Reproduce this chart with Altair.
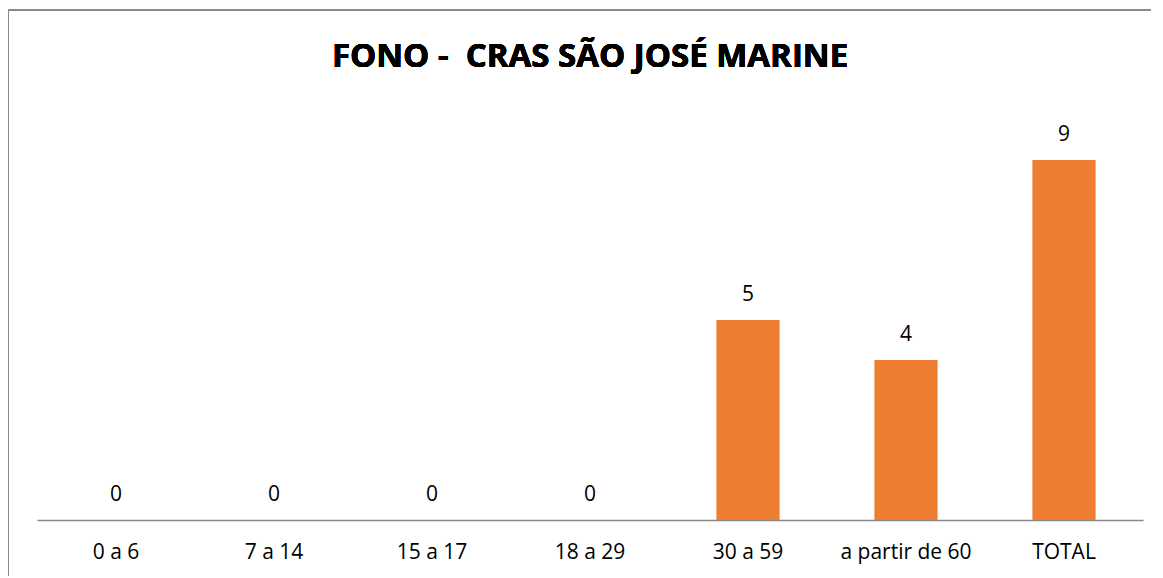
import altair as alt
import pandas as pd

categories = ["0 a 6", "7 a 14", "15 a 17", "18 a 29", "30 a 59", "a partir de 60", "TOTAL"]
values = [0, 0, 0, 0, 5, 4, 9]
title_text = "FONO - \u00a0CRAS SÃO JOSÉ MARINE"

df = pd.DataFrame({"cat": categories, "val": values})

FONT = "Open Sans"
W, H = 1106, 400

x = alt.X("cat:N", sort=categories,
          scale=alt.Scale(paddingInner=0.6, paddingOuter=0.3),
          axis=alt.Axis(title=None, labelAngle=0, labelFontSize=21, labelFont=FONT,
                        labelColor="#000000", ticks=False, domainColor="#898989",
                        domainWidth=1.5, labelPadding=21))
y = alt.Y("val:Q", scale=alt.Scale(domain=[0, 10]), axis=None)

bars = alt.Chart(df).mark_bar(color="#ED7D31").encode(x=x, y=y)
labels = alt.Chart(df).mark_text(baseline="alphabetic", dy=-19, fontSize=21, font=FONT,
                                 color="#000000").encode(x=x, y=y, text="val:Q")

border = alt.Chart(df).mark_rect(fill=None, stroke="#898989", strokeWidth=2, clip=False).encode(
    x=alt.value(-29), x2=alt.value(W + 60), y=alt.value(-110), y2=alt.value(H + 100))

title = alt.Chart(df).mark_text(fontSize=33, fontWeight="bold", font=FONT, color="#000000",
                                align="center", baseline="alphabetic").encode(
    x=alt.value(W / 2), y=alt.value(-53), text=alt.value(title_text))

chart = alt.layer(border, bars, labels, title).properties(
    width=W, height=H,
    padding={"left": 29, "top": 112, "right": 8, "bottom": 56},
    autosize=alt.AutoSizeParams(type="none"),
).configure_view(stroke=None)

chart.save("out.html", embed_options={"renderer": "svg", "actions": False})
